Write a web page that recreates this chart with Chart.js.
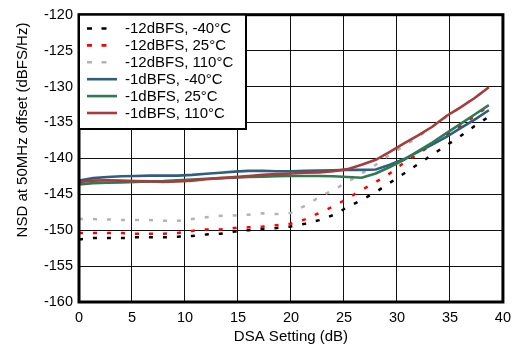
<!DOCTYPE html>
<html>
<head>
<meta charset="utf-8">
<script src="https://cdn.jsdelivr.net/npm/chart.js@4.4.0/dist/chart.umd.min.js"></script>
<style>
  html, body { margin: 0; padding: 0; background: #fff; }
</style>
</head>
<body>
<canvas id="nsdChart" width="518" height="350"></canvas>
<script>
// DSA setting (dB) for every measured point
const dsaSetting = [0, 1.33, 2.67, 4, 5.33, 6.67, 8, 9.33, 10.67, 12, 13.33, 14.67, 16, 17.33, 18.67,
    20, 21.33, 22.67, 24, 25.33, 26.67, 28, 29.33, 30.67, 32, 33.33, 34.67, 36, 37.33, 38.67];

// NSD at 50MHz offset (dBFS/Hz)
const nsd12dBm40 = [-151.3, -151.1, -151.1, -151.1, -151.0, -151.0, -151.0, -150.9, -150.8, -150.6,
    -150.5, -150.2, -150.0, -149.8, -149.7, -149.5, -149.1, -148.6, -147.9, -146.8,
    -145.8, -144.7, -143.4, -142.1, -140.8, -139.5, -138.2, -136.9, -135.5, -134.2];
const nsd12d25 = [-150.4, -150.4, -150.4, -150.4, -150.5, -150.5, -150.5, -150.4, -150.1, -149.9,
    -149.9, -149.7, -149.6, -149.5, -149.3, -149.1, -148.5, -147.6, -146.7, -145.6,
    -144.4, -143.3, -142.1, -140.6, -139.4, -138.0, -136.7, -135.5, -134.1, -132.7];
const nsd12d110 = [-148.45, -148.45, -148.5, -148.6, -148.6, -148.6, -148.7, -148.7, -148.45, -148.2,
    -148.0, -147.95, -147.85, -147.65, -147.75, -147.6, -146.6, -145.4, -144.4, -143.3,
    -142.1, -140.9, -139.5, -138.3, -137.0, -135.6, -134.2, -132.9, -131.5, -130.3];
const nsd1dm40 = [-143.1, -142.75, -142.6, -142.5, -142.45, -142.4, -142.4, -142.4, -142.3, -142.15,
    -142.0, -141.85, -141.75, -141.75, -141.8, -141.8, -141.75, -141.7, -141.65, -141.6,
    -141.6, -141.55, -140.9, -140.1, -139.1, -138.1, -137.0, -135.8, -134.6, -133.3];
const nsd1d25 = [-143.65, -143.45, -143.4, -143.35, -143.3, -143.2, -143.15, -143.05, -142.95, -142.85,
    -142.75, -142.7, -142.6, -142.55, -142.5, -142.45, -142.45, -142.45, -142.5, -142.6,
    -142.7, -142.1, -141.2, -140.2, -139.0, -137.8, -136.5, -135.2, -133.9, -132.6];
const nsd1d110 = [-143.3, -143.1, -143.05, -143.1, -143.15, -143.2, -143.3, -143.2, -143.1, -142.9,
    -142.75, -142.6, -142.45, -142.3, -142.2, -142.1, -142.0, -141.95, -141.8, -141.5,
    -140.9, -140.2, -139.1, -137.9, -136.8, -135.6, -134.1, -132.9, -131.6, -130.1];

const seriesLabels = ['-12dBFS, -40\u00B0C', '-12dBFS, 25\u00B0C', '-12dBFS, 110\u00B0C',
    '-1dBFS, -40\u00B0C', '-1dBFS, 25\u00B0C', '-1dBFS, 110\u00B0C'];
const seriesData = [nsd12dBm40, nsd12d25, nsd12d110, nsd1dm40, nsd1d25, nsd1d110];
const seriesColors = ['#000000', '#ff0000', '#b3b3b3', '#2f5f80', '#2f7a52', '#a63c3c'];
const seriesDashed = [true, true, true, false, false, false];

const FONT = 'Liberation Sans, Arial, sans-serif';

const datasets = seriesData.map((values, i) => ({
    label: seriesLabels[i],
    data: values.map((v, j) => ({ x: dsaSetting[j], y: v })),
    borderColor: seriesColors[i],
    backgroundColor: seriesColors[i],
    borderWidth: seriesDashed[i] ? 2.5 : 2.6,
    borderDash: seriesDashed[i] ? [4, 10] : [],
    pointRadius: 0,
    tension: 0,
    order: -i
}));

// frame, y axis title and legend box inside the plot
const decorations = {
    id: 'decorations',
    afterDraw(chart) {
        const ctx = chart.ctx;
        const area = chart.chartArea;
        ctx.save();

        ctx.strokeStyle = '#000';
        ctx.lineWidth = 3;
        ctx.strokeRect(area.left, area.top, area.right - area.left, area.bottom - area.top);

        ctx.translate(23, 130);
        ctx.rotate(-Math.PI / 2);
        ctx.fillStyle = '#000';
        ctx.font = '15px ' + FONT;
        ctx.textAlign = 'center';
        ctx.textBaseline = 'middle';
        ctx.fillText('NSD at 50MHz offset (dBFS/Hz)', 0, 0);
        ctx.setTransform(1, 0, 0, 1, 0, 0);

        const boxL = area.left, boxT = area.top, boxR = 246, boxB = 129;
        ctx.fillStyle = '#fff';
        ctx.fillRect(boxL, boxT, boxR - boxL, boxB - boxT);
        ctx.lineWidth = 2;
        ctx.strokeRect(boxL, boxT, boxR - boxL, boxB - boxT);

        ctx.font = '15px ' + FONT;
        ctx.textAlign = 'left';
        ctx.textBaseline = 'middle';
        chart.data.datasets.forEach((ds, i) => {
            const y = 28.5 + i * 16.9;
            const dashed = ds.borderDash.length > 0;
            ctx.strokeStyle = ds.borderColor;
            ctx.lineWidth = 2.6;
            ctx.setLineDash(dashed ? [5, 9.5] : []);
            ctx.beginPath();
            ctx.moveTo(87, y);
            ctx.lineTo(dashed ? 107 : 117, y);
            ctx.stroke();
            ctx.setLineDash([]);
            ctx.fillStyle = '#000';
            ctx.fillText(ds.label, 125, y + 0.5);
        });

        ctx.restore();
    }
};

new Chart(document.getElementById('nsdChart'), {
    type: 'line',
    data: { datasets },
    plugins: [decorations],
    options: {
        responsive: false,
        animation: false,
        devicePixelRatio: 1,
        layout: { padding: { top: 10, right: 11, left: 0, bottom: 0 } },
        plugins: {
            legend: { display: false },
            tooltip: { enabled: false }
        },
        scales: {
            x: {
                type: 'linear',
                min: 0,
                max: 40,
                afterFit: scale => { scale.height = 48; },
                ticks: { stepSize: 5, color: '#000', padding: 7, font: { family: FONT, size: 14.5 } },
                grid: { color: '#111', lineWidth: 1, drawTicks: false },
                border: { display: false },
                title: {
                    display: true,
                    text: 'DSA Setting (dB)',
                    color: '#000',
                    font: { family: FONT, size: 15 },
                    padding: { top: 0, bottom: 4 }
                }
            },
            y: {
                min: -160,
                max: -120,
                afterFit: scale => { scale.width = 79; },
                ticks: { stepSize: 5, color: '#000', padding: 6, font: { family: FONT, size: 14.5 } },
                grid: { color: '#111', lineWidth: 1, drawTicks: false },
                border: { display: false }
            }
        }
    }
});
</script>
</body>
</html>
